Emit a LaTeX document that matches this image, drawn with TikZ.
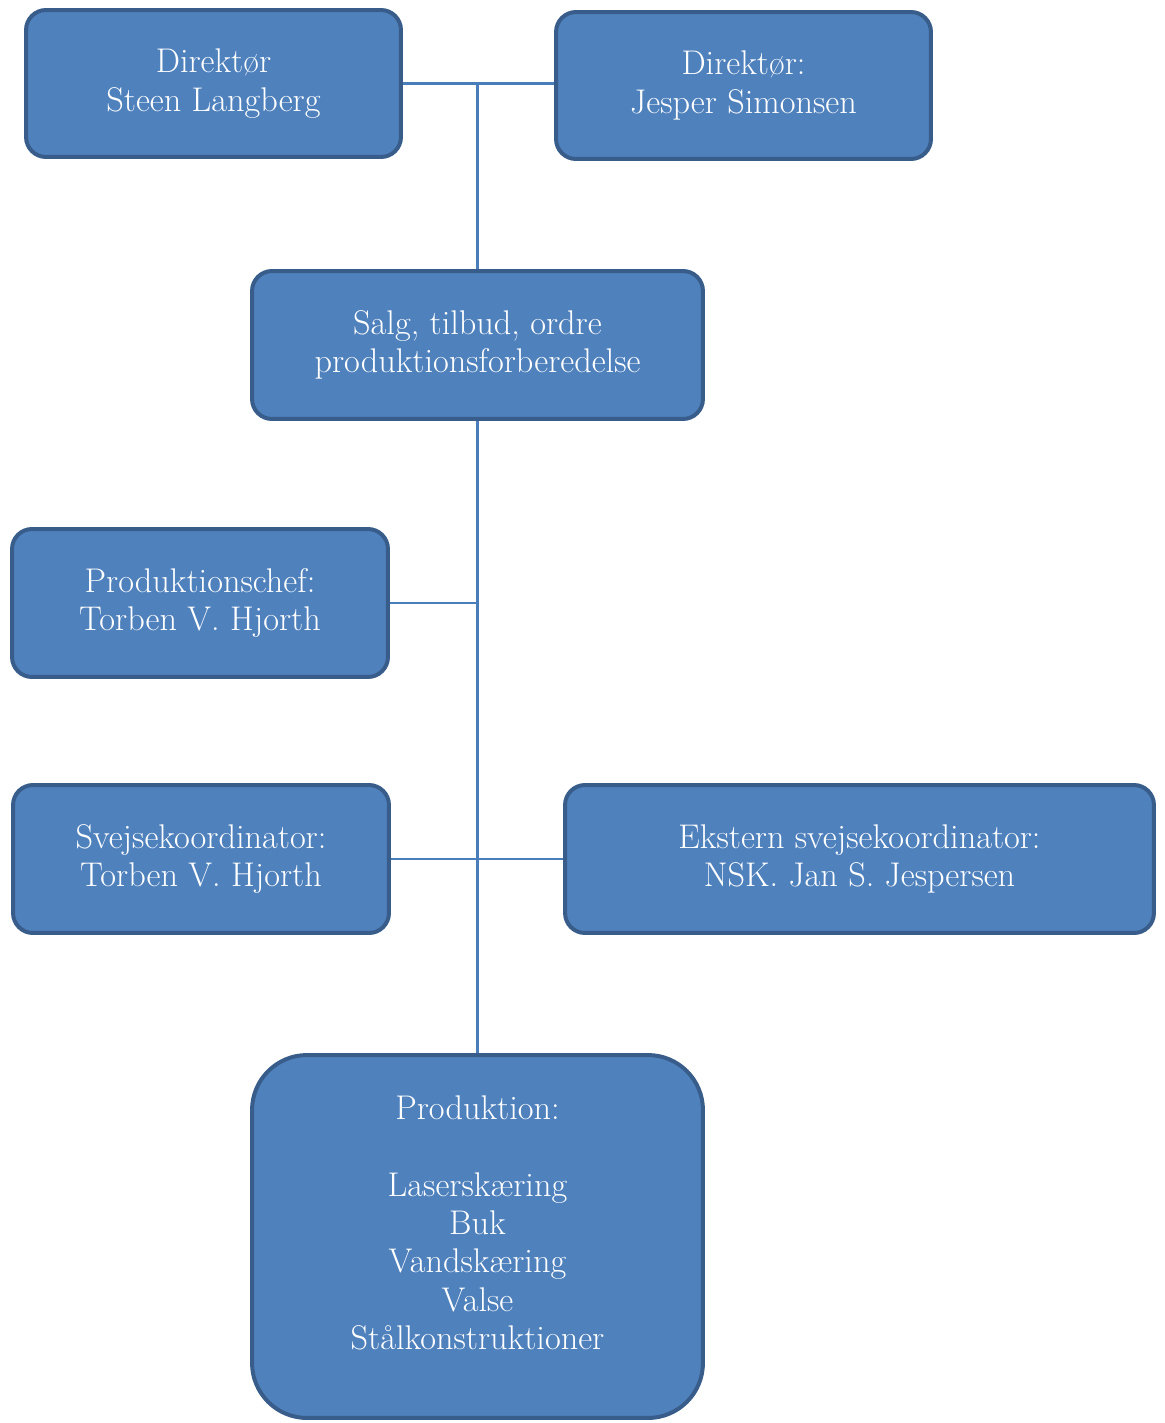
\documentclass[tikz,border=0pt]{standalone}
\usepackage{fontspec}
\usepackage{tikz}
\definecolor{boksfyld}{HTML}{4F81BD}
\definecolor{bokskant}{HTML}{385D8A}
\definecolor{linjefarve}{HTML}{4A7EBB}

\begin{document}
\begin{tikzpicture}[x=0.02cm, y=-0.02cm,
	boks/.style={draw=bokskant, fill=boksfyld, line width=0.08cm, rounded corners=0.4cm,
		text=white, align=center, inner sep=0pt, font=\fontsize{19.5}{21.8}\selectfont},
	forb/.style={draw=linjefarve, line width=0.045cm}]
		\useasboundingbox (0,0) rectangle (1165,1423);
		\path
		(213.5,83.5) node[boks, minimum width=7.5cm, minimum height=2.94cm] (dirL) {Direktør\\Steen Langberg}
		(743.5,85.5) node[boks, minimum width=7.5cm, minimum height=2.94cm] (dirR) {Direktør:\\Jesper Simonsen}
		
		(477.5,345) node[boks, minimum width=9.02cm, minimum height=2.96cm] (salg) {Salg, tilbud, ordre\\produktionsforberedelse}
		
		(200,603) node[boks, minimum width=7.52cm, minimum height=2.96cm] (chef) {Produktionschef:\\Torben V. Hjorth}
		
		(201,859) node[boks, minimum width=7.52cm, minimum height=2.96cm] (svejs) {Svejsekoordinator:\\Torben V. Hjorth}
		(859.5,859) node[boks, minimum width=11.78cm, minimum height=2.96cm] (ekst) {Ekstern svejsekoordinator:\\NSK. Jan S. Jespersen}
		
		(477.5,1236.5) node[boks, rounded corners=1.1cm, minimum width=9.02cm, minimum height=7.26cm] (prod) {Produktion:\\ \\Laserskæring\\Buk\\Vandskæring\\Valse\\Stålkonstruktioner\\[-6pt]\mbox{}}
		;
		\coordinate (topp) at (477.5,85);
		\draw[forb] (dirL.east) -- (dirL.east -| dirR.west);
		\draw[forb] (topp) -- (salg.north);
		\draw[forb] (salg.south) -- (prod.north);
		\draw[forb] (chef.east) -- (chef.east -| salg.south);
		\draw[forb] (svejs.east) -- (ekst.west);
	\end{tikzpicture}
\end{document}
